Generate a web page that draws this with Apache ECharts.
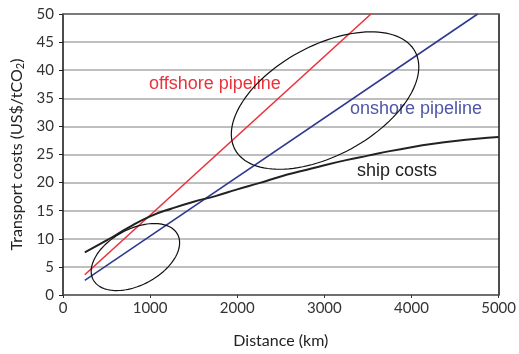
<!DOCTYPE html>
<html><head><meta charset="utf-8">
<script src="https://cdn.jsdelivr.net/npm/echarts@6/dist/echarts.min.js"></script>
<style>html,body{margin:0;padding:0;background:#fff}#c{width:519px;height:354px}</style>
</head><body><div id="c"></div>
<script>
// Distance (km)
const offshoreX = [250, 3535];
const offshoreY = [3.6, 50];
const onshoreX = [250, 4760];
const onshoreY = [2.6, 50];
const shipX = [250, 500, 750, 1000, 1250, 1500, 1750, 2000, 2250, 2500, 2750, 3000, 3250, 3500, 3750, 4000, 4250, 4500, 4750, 5000];
const shipY = [7.6, 9.7, 12.0, 14.0, 15.4, 16.6, 17.6, 18.8, 19.9, 21.1, 22.1, 23.1, 24.0, 24.8, 25.6, 26.3, 26.9, 27.4, 27.8, 28.1];
const xTicks = [0, 1000, 2000, 3000, 4000, 5000];
const yTicks = [0, 5, 10, 15, 20, 25, 30, 35, 40, 45, 50];
// ellipse annotations: centre (km, US$/tCO2)
const ellipseCentreX = [831, 3008];
const ellipseCentreY = [6.75, 34.6];

const zip = (xs, ys) => xs.map((x, i) => [x, ys[i]]);
// ellipse shape (pixels / degrees)
const ellipseShape = [{rx: 47.9, ry: 28.0, rot: 28.3}, {rx: 102.5, ry: 54.8, rot: 28.6}];

const chart = echarts.init(document.getElementById('c'));
const tickFont = 'Lato, "Noto Sans", sans-serif';
chart.setOption({
  animation: false,
  grid: {left: 63, right: 18, top: 14, bottom: 55, containLabel: false},
  xAxis: [{
    type: 'value', min: 0, max: 5000, interval: 1000,
    name: 'Distance (km)', nameLocation: 'middle', nameGap: 38,
    nameTextStyle: {fontFamily: tickFont, fontSize: 16, color: '#222'},
    axisLine: {lineStyle: {color: '#555', width: 1.5}},
    axisTick: {show: true, length: 3, lineStyle: {color: '#333'}},
    axisLabel: {fontFamily: tickFont, fontSize: 15, color: '#333', margin: 6,
      formatter: v => String(v)},
    splitLine: {show: false}
  }, {
    type: 'value', position: 'top', min: 0, max: 5000,
    axisLine: {show: true, onZero: false, lineStyle: {color: '#666', width: 1.5}},
    axisTick: {show: false}, axisLabel: {show: false}, splitLine: {show: false}
  }],
  yAxis: [{
    type: 'value', min: 0, max: 50, interval: 5,
    name: 'Transport costs (US$/tCO{s|2})', nameLocation: 'middle', nameGap: 37,
    nameTextStyle: {fontFamily: tickFont, fontSize: 16, color: '#222',
      rich: {s: {fontFamily: tickFont, fontSize: 11, color: '#222', padding: [7, 0, 0, 0]}}},
    axisLine: {show: true, lineStyle: {color: '#111', width: 1.5}},
    axisTick: {show: true, length: 4, lineStyle: {color: '#222'}},
    axisLabel: {fontFamily: tickFont, fontSize: 15, color: '#333', margin: 9},
    splitLine: {show: true, lineStyle: {color: '#aaa', width: 1.5}}
  }, {
    type: 'value', position: 'right', min: 0, max: 50,
    axisLine: {show: true, onZero: false, lineStyle: {color: '#111', width: 1.5}},
    axisTick: {show: false}, axisLabel: {show: false}, splitLine: {show: false}
  }],
  series: [
    {type: 'line', name: 'offshore pipeline', data: zip(offshoreX, offshoreY), showSymbol: false,
      lineStyle: {color: '#e8333c', width: 1.6}, z: 3},
    {type: 'line', name: 'onshore pipeline', data: zip(onshoreX, onshoreY), showSymbol: false,
      lineStyle: {color: '#2f3a8f', width: 1.6}, z: 3},
    {type: 'line', name: 'ship costs', data: zip(shipX, shipY), showSymbol: false, smooth: true,
      lineStyle: {color: '#222', width: 2}, z: 4},
    {type: 'custom', data: zip(ellipseCentreX, ellipseCentreY), z: 5, silent: true,
      renderItem: function (params, api) {
        const c = api.coord([api.value(0), api.value(1)]);
        const e = ellipseShape[params.dataIndex];
        const th = e.rot * Math.PI / 180;
        const pts = [];
        for (let i = 0; i <= 120; i++) {
          const t = i / 120 * Math.PI * 2;
          const ax = e.rx * Math.cos(t), ay = e.ry * Math.sin(t);
          pts.push([c[0] + ax * Math.cos(th) - ay * Math.sin(th), c[1] - (ax * Math.sin(th) + ay * Math.cos(th))]);
        }
        return {type: 'polyline', shape: {points: pts}, style: {stroke: '#111', lineWidth: 1.2, fill: null}};
      }}
  ],
  graphic: [
    {type: 'text', left: 149, top: 75, style: {text: 'offshore pipeline', fontFamily: 'Liberation Sans, Arial, sans-serif', fontSize: 18, fill: '#e8333c'}},
    {type: 'text', left: 350, top: 100, style: {text: 'onshore pipeline', fontFamily: 'Liberation Sans, Arial, sans-serif', fontSize: 18, fill: '#4f55a8'}},
    {type: 'text', left: 357, top: 162, style: {text: 'ship costs', fontFamily: 'Liberation Sans, Arial, sans-serif', fontSize: 18, fill: '#222'}}
  ]
});
</script></body></html>
